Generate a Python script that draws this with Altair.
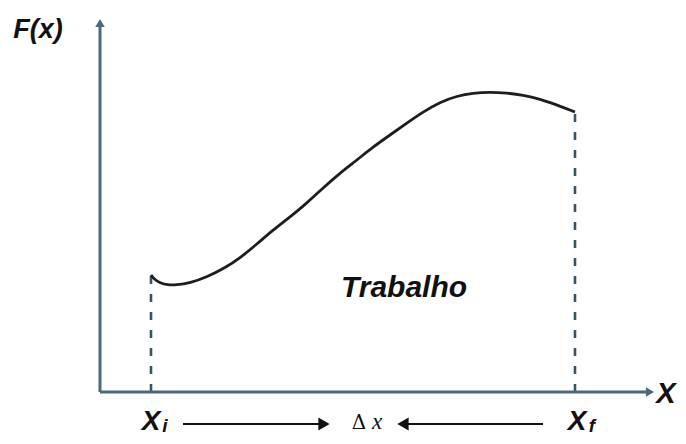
import altair as alt
import pandas as pd

# ---- data (units: px-like distances from the axis origin) ----
curve_x = [51, 54, 60, 68, 76, 90, 107, 125, 140, 157, 173, 190, 207, 223, 240,
           257, 273, 290, 307, 323, 340, 357, 373, 390, 407, 423, 440, 457, 475]
curve_y = [117, 113, 109, 107, 107, 109, 115, 124, 134, 148, 162, 175, 189, 204, 219,
           232, 245, 257, 269, 280, 290, 296, 299, 300, 299, 297, 293, 287, 280]

x_i = 51
x_f = 475
y_at_xi = 117
y_at_xf = 280

axis_y_top = 370
axis_x_right = 548

AXIS_COLOR = "#4a6a7a"
FONT = "Liberation Sans"

X_DOMAIN = [-92, 578]
Y_DOMAIN = [-44, 384]

xs = lambda f="x": alt.X(f"{f}:Q", scale=alt.Scale(domain=X_DOMAIN, nice=False, zero=False), axis=None)
ys = lambda f="y": alt.Y(f"{f}:Q", scale=alt.Scale(domain=Y_DOMAIN, nice=False, zero=False), axis=None)

curve_df = pd.DataFrame({"x": curve_x, "y": curve_y})
curve = alt.Chart(curve_df).mark_line(color="#1e1e1e", strokeWidth=2.8, interpolate="basis").encode(
    x=xs(), y=ys())

dash_df = pd.DataFrame({"x": [x_i, x_f], "y": [0, 0], "y2": [y_at_xi, y_at_xf]})
dashes = alt.Chart(dash_df).mark_rule(color="#3a5463", strokeWidth=2.6, strokeDash=[8, 10]).encode(
    x=xs(), y=ys(), y2="y2:Q")

yaxis_df = pd.DataFrame({"x": [0], "y": [0], "y2": [axis_y_top]})
yaxis = alt.Chart(yaxis_df).mark_rule(color=AXIS_COLOR, strokeWidth=3).encode(
    x=xs(), y=ys(), y2="y2:Q")
xaxis_df = pd.DataFrame({"x": [0], "x2": [axis_x_right], "y": [0]})
xaxis = alt.Chart(xaxis_df).mark_rule(color=AXIS_COLOR, strokeWidth=3).encode(
    x=xs(), x2="x2:Q", y=ys())

yhead = alt.Chart(pd.DataFrame({"x": [0], "y": [axis_y_top - 1]})).mark_point(
    shape="triangle-up", filled=True, size=90, color=AXIS_COLOR, opacity=1).encode(x=xs(), y=ys())
xhead = alt.Chart(pd.DataFrame({"x": [axis_x_right + 2], "y": [0]})).mark_point(
    shape="triangle-right", filled=True, size=90, color=AXIS_COLOR, opacity=1).encode(x=xs(), y=ys())

# bottom arrows
arrow_y = -32
arr_df = pd.DataFrame({"x": [83, 443], "x2": [220, 307], "y": [arrow_y, arrow_y]})
arrows = alt.Chart(arr_df).mark_rule(color="#111111", strokeWidth=2).encode(x=xs(), x2="x2:Q", y=ys())
rhead = alt.Chart(pd.DataFrame({"x": [224], "y": [arrow_y]})).mark_point(
    shape="triangle-right", filled=True, size=170, color="#111111", opacity=1).encode(x=xs(), y=ys())
lhead = alt.Chart(pd.DataFrame({"x": [303], "y": [arrow_y]})).mark_point(
    shape="triangle-left", filled=True, size=170, color="#111111", opacity=1).encode(x=xs(), y=ys())


def label(x, y, text, size, style="italic", weight="bold", font=FONT, baseline="middle", align="center", color="#111111"):
    return alt.Chart(pd.DataFrame({"x": [x], "y": [y], "t": [text]})).mark_text(
        font=font, fontSize=size, fontStyle=style, fontWeight=weight, baseline=baseline,
        align=align, color=color).encode(x=xs(), y=ys(), text="t:N")


texts = [
    label(-62, 362, "F(x)", 27),
    label(566, -2, "X", 29),
    label(304, 95, "Trabalho", 30, baseline="alphabetic"),
    label(51, -38, "X", 28, baseline="alphabetic"),
    label(65, -40, "i", 19, baseline="alphabetic"),
    label(477, -38, "X", 28, baseline="alphabetic"),
    label(492, -40, "f", 19, baseline="alphabetic"),
    label(259, -37, "Δ", 20, style="normal", weight="normal", font="DejaVu Serif", baseline="alphabetic"),
    label(277, -37, "x", 23, style="italic", weight="normal", font="Liberation Serif", baseline="alphabetic"),
]

chart = alt.layer(
    dashes, yaxis, xaxis, yhead, xhead, curve, arrows, rhead, lhead, *texts
).properties(
    width=670, height=428, padding=0, autosize=alt.AutoSizeParams(type="none")
).configure(background="white").configure_view(stroke=None)

chart.save("out.html", embed_options={"renderer": "svg", "actions": False})
